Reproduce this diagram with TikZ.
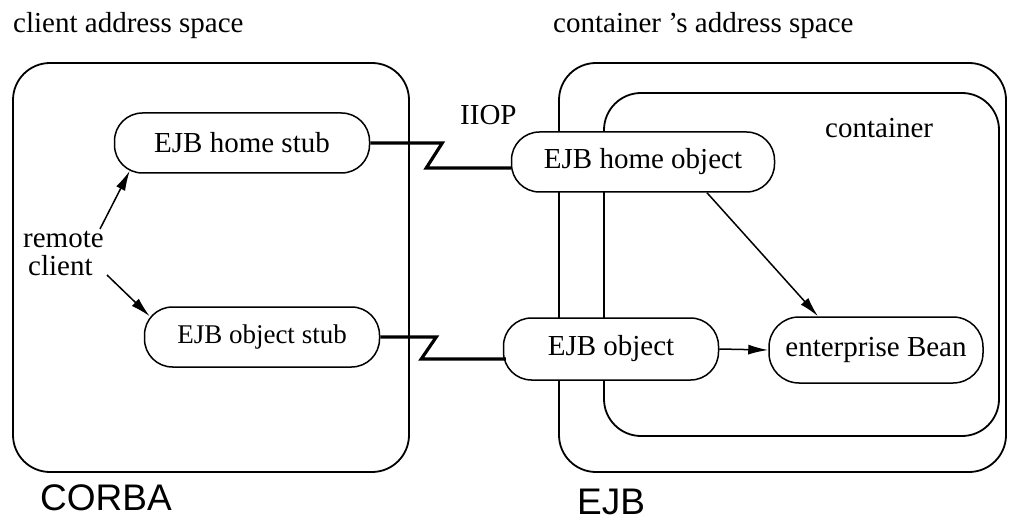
\documentclass[tikz,border=0pt]{standalone}
\usepackage{fontspec}
\setmainfont{Liberation Serif}
\newfontfamily\labelsans{Liberation Sans}
\usetikzlibrary{arrows.meta,calc}
\begin{document}
\begin{tikzpicture}[x=1pt,y=-1pt,
  spacebox/.style={draw, line width=1.8pt, rounded corners=37pt},
  obj/.style={draw, fill=white, line width=1.5pt, rectangle, rounded corners=28pt,
              minimum height=60pt, inner sep=0pt, font=\fontsize{29}{30}\selectfont},
  txt/.style={inner sep=0pt, anchor=base west, font=\fontsize{29}{30}\selectfont},
  bigtxt/.style={inner sep=0pt, anchor=base west, font=\labelsans\fontsize{37}{40}\selectfont},
  link/.style={line width=3.2pt},
  arr/.style={line width=1.5pt, -{Latex[length=20pt,width=10pt]}}]
\useasboundingbox (0,0) rectangle (1009,521);

% address spaces and the container
\draw[spacebox] (13,63) rectangle (409,472);
\draw[spacebox] (559,63) rectangle (1006,472);
\draw[spacebox] (604,93) rectangle (999,436);

% headings and labels
\node[txt] (hdrc) at (13,33) {client address space};
\node[txt] (hdrs) at (553,33) {container 's address space};
\node[txt] (ctr) at (825,138) {container};
\node[txt] (iiop) at (460,125) {IIOP};
\node[txt] (rm) at (23,248) {remote};
\node[txt] (cl) at (28,276) {client};
\node[bigtxt] (corba) at (40,510) {CORBA};
\node[bigtxt] (ejb) at (577,514) {EJB};

% stubs and objects
\node[obj, minimum width=255pt] (hs) at (242,143) {EJB home stub};
\node[obj, minimum width=263pt] (ho) at (643,162) {EJB home object};
\node[obj, minimum width=235pt, font=\fontsize{27}{28}\selectfont] (os) at (262,337) {EJB object stub};
\node[obj, minimum width=215pt, minimum height=62pt] (eo) at (611,349) {EJB object};
\node[obj, minimum width=214pt, minimum height=66pt, rounded corners=30pt] (eb) at (876,350) {enterprise Bean};

% IIOP links
\draw[link] (hs.east) -- ++(72,0) -- ++(-16,25) coordinate (z1) -- (z1 -| ho.west);
\draw[link] (os.east) -- ++(56,0) -- ++(-15,22) coordinate (z2) -- ($(z2 -| eo.west)+(3,0)$);

% calls
\coordinate (r1) at (100,229);
\coordinate (r2) at (107,275);
\draw[arr] (r1) -- ($(hs.south west)+(16,-3)$);
\draw[arr] (r2) -- ($(os.north west)+(6,10)$);
\draw[arr] ($(ho.south)+(64,0)$) -- ($(eb.north)+(-58,0)$);
\draw[arr] (eo.east) -- (eb.west);
\end{tikzpicture}
\end{document}
